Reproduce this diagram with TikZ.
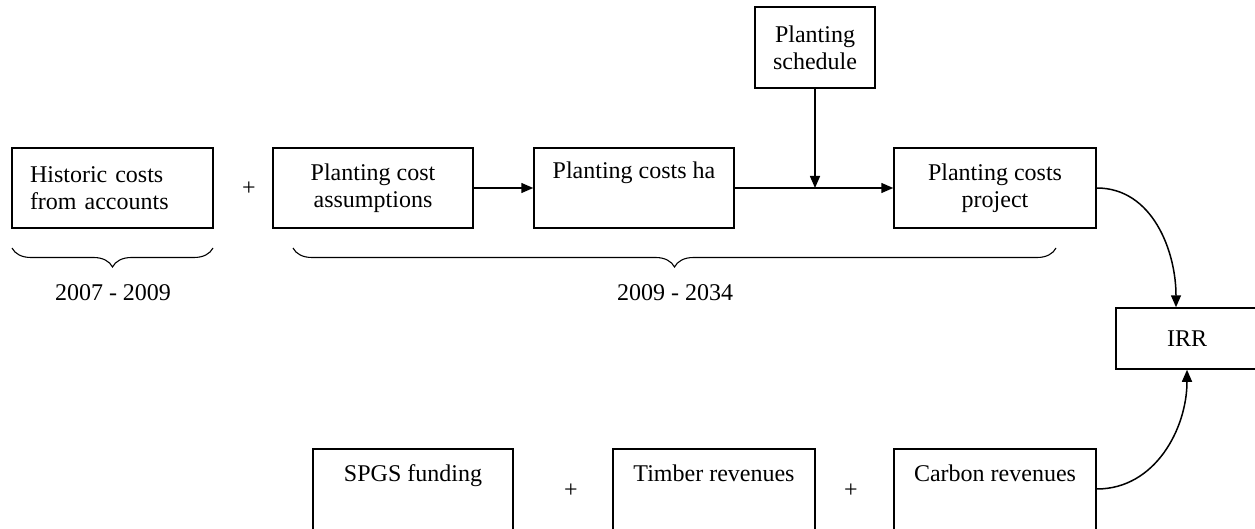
\documentclass[tikz,border=0pt]{standalone}
\usepackage{fontspec}
\setmainfont{Liberation Serif}
\usetikzlibrary{arrows.meta,decorations.pathreplacing}
\tikzset{
  box/.style={draw=black, line width=1.5pt, minimum height=80pt, minimum width=200pt,
    inner sep=0pt, align=center, font=\fontsize{24}{27}\selectfont},
  txt/.style={inner sep=0pt, font=\fontsize{24}{27}\selectfont},
  arr/.style={line width=1.5pt, -{Triangle[length=12pt,width=10pt]}},
  brc/.style={line width=1.1pt, decorate, decoration={brace, mirror, amplitude=19pt}}
}
\begin{document}
\begin{tikzpicture}[x=1pt,y=-1pt]
\useasboundingbox (0,0) rectangle (1255,529);
\clip (0,0) rectangle (1255,529);
% top row
\node[box, text width=165pt, align=left, inner xsep=18pt] (hist) at (112.5,188) {Historic costs\\from accounts};
\node[txt] (plus1) at (249,189) {+};
\node[box] (pca) at (373,188) {Planting cost\\assumptions};
\node[box] (pch) at (634,188) {Planting costs ha\\\strut};
\node[box, minimum width=120pt, minimum height=81pt] (pcs) at (815,47.5) {Planting\\schedule};
\node[box, minimum width=202pt] (pcp) at (995,188) {Planting costs\\project};
\coordinate (j) at (815,188);
% braces
\draw[brc] (12,248) -- (213,248);
\node[txt, anchor=base] (y1) at (113,300) {2007 - 2009};
\draw[brc] (293,248) -- (1056,248);
\node[txt, anchor=base] (y2) at (675,300) {2009 - 2034};
% IRR
\node[box, minimum width=142pt, minimum height=61pt] (irr) at (1187,338.5) {IRR};
% bottom row
\node[box, anchor=north, minimum height=100pt] (spgs) at (413,448) {};
\node[txt, anchor=base] (spgst) at (413,481) {SPGS funding};
\node[txt] (plus2) at (571,491) {+};
\node[box, anchor=north, minimum height=100pt, minimum width=202pt] (timb) at (714,448) {};
\node[txt, anchor=base] (timbt) at (714,481) {Timber revenues};
\node[txt] (plus3) at (851,491) {+};
\node[box, anchor=north, minimum height=100pt, minimum width=202pt] (carb) at (995,448) {};
\node[txt, anchor=base] (carbt) at (995,481) {Carbon revenues};
% connectors
\draw[arr] (pca.east) -- (pch.west);
\draw[arr] (pch.east) -- (pcp.west);
\draw[arr] (pcs.south) -- (j);
\draw[arr] (pcp.east) to[out=0,in=90] ([xshift=-11pt]irr.north);
\draw[arr] (carb.east |- 0,489) to[out=0,in=-90] (irr.south);
\end{tikzpicture}
\end{document}
